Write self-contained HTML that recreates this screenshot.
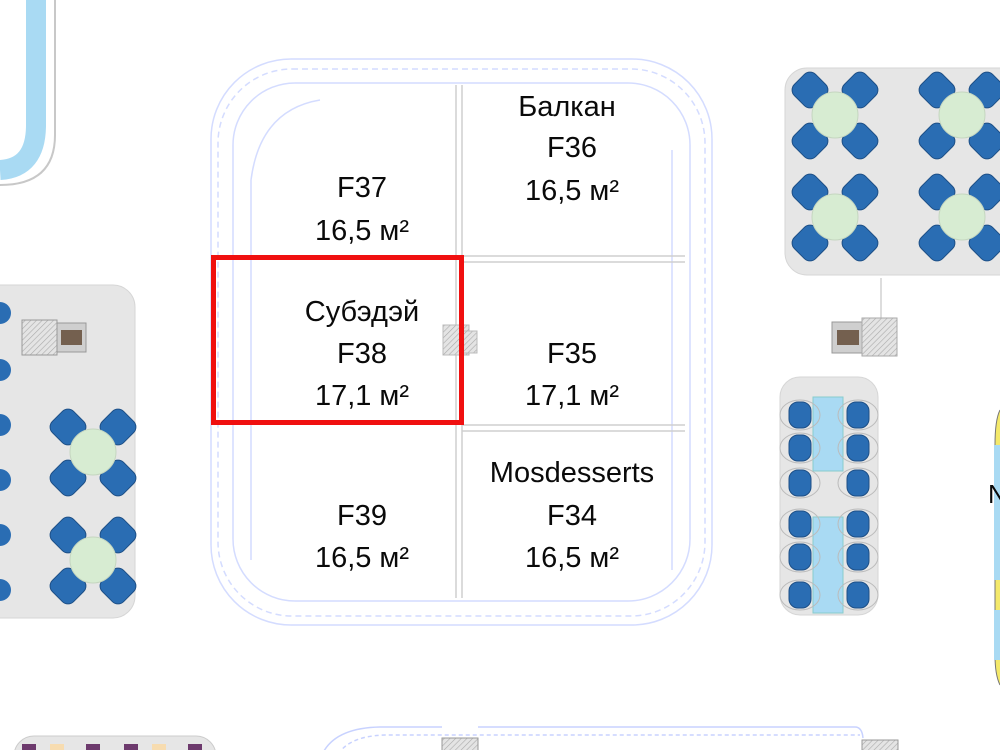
<!DOCTYPE html>
<html><head><meta charset="utf-8"><style>
html,body{margin:0;padding:0;background:#fff;width:1000px;height:750px;overflow:hidden}
text{font-family:"Liberation Sans","DejaVu Sans",sans-serif;fill:#0a0a0a}
</style></head><body>
<svg width="1000" height="750" viewBox="0 0 1000 750" xmlns="http://www.w3.org/2000/svg">
<defs>
<pattern id="h" width="4" height="4" patternUnits="userSpaceOnUse" patternTransform="rotate(45)">
<rect width="4" height="4" fill="#e4e4e4"/><line x1="0" y1="0" x2="0" y2="4" stroke="#aaa" stroke-width="1.2"/></pattern>
<g id="chair"><rect x="-15" y="-15" width="30" height="30" rx="8" fill="#2a6db3" stroke="#1d4f86" stroke-width="1" transform="rotate(45)"/></g>
<g id="tbl">
<use href="#chair" x="-25" y="-25"/><use href="#chair" x="25" y="-25"/>
<use href="#chair" x="-25" y="26"/><use href="#chair" x="25" y="26"/>
<circle r="23" fill="#d7ecd2" stroke="#c5d6c0"/></g>
<g id="sc"><ellipse cx="0" cy="0" rx="20" ry="15" fill="none" stroke="#bbb"/><rect x="-11" y="-13" width="22" height="26" rx="9" fill="#2a6db3" stroke="#1d4f86"/></g>
</defs>

<path d="M55 0 V135 Q55 185 0 185" fill="none" stroke="#c8c8c8" stroke-width="2"/>
<path d="M36 0 V125 Q36 168 0 170" fill="none" stroke="#a9daf3" stroke-width="20"/>

<g fill="none" stroke="#d4dcff" stroke-width="1.5">
<rect x="211" y="59" width="501" height="566" rx="80"/>
<rect x="218" y="69" width="487" height="547" rx="74" stroke-dasharray="6 4"/>
<rect x="233" y="83" width="457" height="518" rx="62"/>
<path d="M251 180 V560 M672 150 V570 M320 100 Q260 110 251 180" />
</g>
<g stroke="#cfcfcf" stroke-width="1.5" fill="none">
<line x1="456" y1="85" x2="456" y2="598"/><line x1="462" y1="85" x2="462" y2="598"/>
<line x1="462" y1="256" x2="685" y2="256"/><line x1="462" y1="262" x2="685" y2="262"/>
<line x1="462" y1="425" x2="685" y2="425"/><line x1="462" y1="431" x2="685" y2="431"/>
</g>
<rect x="443" y="325" width="26" height="30" fill="url(#h)" stroke="#bbb"/>
<rect x="460" y="331" width="17" height="22" fill="url(#h)" stroke="#bbb"/>
<rect x="213.5" y="257.5" width="248" height="165" fill="none" stroke="#f01010" stroke-width="5"/>

<g font-size="29" text-anchor="middle">
<text x="362" y="197">F37</text><text x="362" y="240">16,5 м²</text>
<text x="567" y="116">Балкан</text><text x="572" y="157">F36</text><text x="572" y="200">16,5 м²</text>
<text x="362" y="321">Субэдэй</text><text x="362" y="363">F38</text><text x="362" y="405">17,1 м²</text>
<text x="572" y="363">F35</text><text x="572" y="405">17,1 м²</text>
<text x="572" y="482">Mosdesserts</text><text x="572" y="525">F34</text><text x="572" y="567">16,5 м²</text>
<text x="362" y="525">F39</text><text x="362" y="567">16,5 м²</text>
</g>

<rect x="-30" y="285" width="165" height="333" rx="22" fill="#e6e6e6" stroke="#d6d6d6"/>
<g fill="#2a6db3">
<circle cx="0" cy="313" r="11"/><circle cx="0" cy="370" r="11"/><circle cx="0" cy="425" r="11"/>
<circle cx="0" cy="480" r="11"/><circle cx="0" cy="535" r="11"/><circle cx="0" cy="590" r="11"/></g>
<rect x="22" y="320" width="35" height="35" fill="url(#h)" stroke="#999"/>
<rect x="57" y="323" width="29" height="29" fill="#cfcfcf" stroke="#999"/>
<rect x="61" y="330" width="21" height="15" fill="#74604f"/>
<use href="#tbl" x="93" y="452"/><use href="#tbl" x="93" y="560"/>

<rect x="785" y="68" width="240" height="207" rx="22" fill="#e6e6e6" stroke="#d6d6d6"/>
<use href="#tbl" x="835" y="115"/><use href="#tbl" x="962" y="115"/>
<use href="#tbl" x="835" y="217"/><use href="#tbl" x="962" y="217"/>
<line x1="881" y1="278" x2="881" y2="320" stroke="#bbb"/>
<rect x="832" y="322" width="31" height="31" fill="#cfcfcf" stroke="#999"/>
<rect x="837" y="330" width="22" height="15" fill="#74604f"/>
<rect x="862" y="318" width="35" height="38" fill="url(#h)" stroke="#aaa"/>

<rect x="780" y="377" width="98" height="238" rx="20" fill="#e6e6e6" stroke="#d6d6d6"/>
<rect x="813" y="397" width="30" height="74" fill="#a9daf3" stroke="#8cc"/>
<rect x="813" y="517" width="30" height="96" fill="#a9daf3" stroke="#8cc"/>
<g>
<use href="#sc" x="800" y="415"/><use href="#sc" x="800" y="448"/><use href="#sc" x="800" y="483"/>
<use href="#sc" x="800" y="524"/><use href="#sc" x="800" y="557"/><use href="#sc" x="800" y="595"/>
<use href="#sc" x="858" y="415"/><use href="#sc" x="858" y="448"/><use href="#sc" x="858" y="483"/>
<use href="#sc" x="858" y="524"/><use href="#sc" x="858" y="557"/><use href="#sc" x="858" y="595"/>
</g>

<path d="M1000 410 Q995 420 995 445 V655 Q995 675 1000 685" fill="#f4e96a" stroke="#777"/>
<rect x="994" y="445" width="6" height="135" fill="#a9daf3"/>
<rect x="994" y="610" width="6" height="50" fill="#a9daf3"/>
<text x="988" y="503" font-size="26">N</text>

<rect x="14" y="736" width="202" height="40" rx="20" fill="#e6e6e6" stroke="#ccc"/>
<g><rect x="22" y="744" width="14" height="8" fill="#6d3a6d"/><rect x="50" y="744" width="14" height="8" fill="#f7dcb0"/>
<rect x="86" y="744" width="14" height="8" fill="#6d3a6d"/><rect x="124" y="744" width="14" height="8" fill="#6d3a6d"/>
<rect x="152" y="744" width="14" height="8" fill="#f7dcb0"/><rect x="188" y="744" width="14" height="8" fill="#6d3a6d"/></g>
<path d="M320 760 Q330 728 380 727 H442 M478 727 H855 Q862 727 863 738" fill="none" stroke="#c8d2ff" stroke-width="1.5"/>
<path d="M335 760 Q345 736 385 735 H860" fill="none" stroke="#c8d2ff" stroke-width="1.5" stroke-dasharray="4 3"/>
<rect x="442" y="738" width="36" height="14" fill="url(#h)" stroke="#999"/>
<rect x="862" y="740" width="36" height="12" fill="url(#h)" stroke="#999"/>
</svg>
</body></html>
